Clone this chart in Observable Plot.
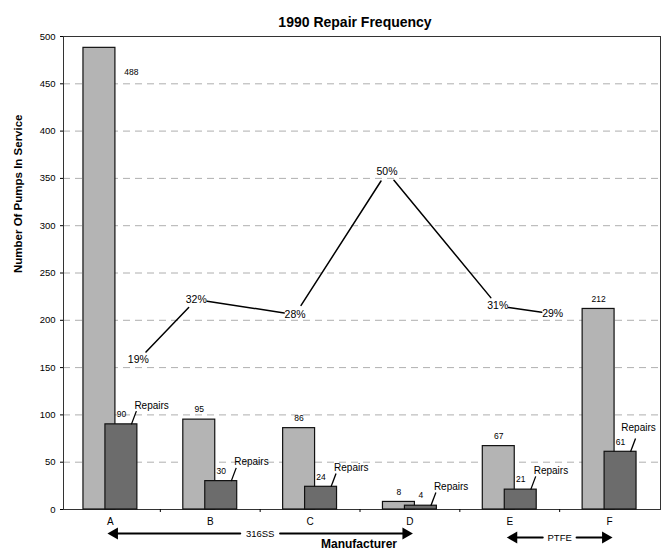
<!DOCTYPE html>
<html>
<head>
<meta charset="utf-8">
<script src="https://cdn.jsdelivr.net/npm/d3@7"></script>
<script src="https://cdn.jsdelivr.net/npm/@observablehq/plot@0.6"></script>
<style>
  body { margin: 0; background: #fff; }
  #chart svg { display: block; }
</style>
</head>
<body>
<div id="chart"></div>
<script>
// ---- data ----
const categories = ["A", "B", "C", "D", "E", "F"];
const inService = [488, 95, 86, 8, 67, 212];
const repairs = [90, 30, 24, 4, 21, 61];
const pctLabels = ["19%", "32%", "28%", "50%", "31%", "29%"];
const pctPos = [0.28, 0.86, 1.85, 2.77, 3.88, 4.43];   // position along the category axis (A = 0)
const pctLevel = [158, 222, 206, 357, 215, 207];         // level on the y axis where the label sits
const yTicks = [0, 50, 100, 150, 200, 250, 300, 350, 400, 450, 500];
const groupNames = ["316SS", "PTFE"];
const groupFrom = ["A", "E"];
const groupTo = ["D", "F"];
const title = "1990 Repair Frequency";
const yLabel = "Number Of Pumps In Service";
const xLabel = "Manufacturer";
const annotation = "Repairs";

// ---- tables built from the arrays ----
const bars = categories.map((c, i) => ({c, i, inService: inService[i], repairs: repairs[i]}));
const pcts = pctLabels.map((t, i) => ({t, x: pctPos[i], y: pctLevel[i]}));
const segs = d3.pairs(pcts).map(([a, b]) => ({x1: a.x, y1: a.y, x2: b.x, y2: b.y}));
const groups = groupNames.map((name, k) => {
  const a = categories.indexOf(groupFrom[k]), b = categories.indexOf(groupTo[k]);
  return {name, a, b, m: (a + b) / 2};
});
const mids = d3.range(categories.length - 1).map(i => i + 0.5);

const light = "#b4b4b4", dark = "#6c6c6c";
const groupDy = [24, 28];

const groupMarks = groups.flatMap((g, k) => {
  const dy = groupDy[k];
  const inset = g.name.length * 3 + 5;
  const halves = [{x1: g.m, x2: g.a}, {x1: g.m, x2: g.b}];
  return [
    Plot.arrow(halves, {x1: "x1", x2: "x2", y1: 0, y2: 0, dy, headLength: 0, insetStart: inset, insetEnd: 4,
      stroke: "#000", strokeWidth: 2.2}),
    Plot.dot([g], {x: "a", y: 0, dy, dx: 4, symbol: "triangle", rotate: -90, r: 4.5, fill: "#000", stroke: "none"}),
    Plot.dot([g], {x: "b", y: 0, dy, dx: -4, symbol: "triangle", rotate: 90, r: 4.5, fill: "#000", stroke: "none"}),
    Plot.text([g], {x: "m", y: 0, dy, text: "name", fontSize: 9.5, fill: "#000"})
  ];
});

const chart = Plot.plot({
  width: 665,
  height: 553,
  marginTop: 36,
  marginBottom: 44,
  marginLeft: 63,
  marginRight: 5,
  style: {fontFamily: "'Liberation Sans', Arial, sans-serif", color: "#000", background: "#fff"},
  x: {type: "linear", domain: [-0.47, 5.51], axis: null},
  y: {domain: [0, 500], axis: null},
  marks: [
    Plot.ruleY(yTicks.filter(t => t > 0 && t < 500), {stroke: "#9a9a9a", strokeWidth: 0.8, strokeDasharray: "7,5"}),
    Plot.frame({stroke: "#333", strokeWidth: 1}),
    Plot.axisY({ticks: yTicks, tickSize: 3, tickPadding: 5, fontSize: 9.5, label: null}),
    Plot.axisX({ticks: d3.range(categories.length), tickFormat: i => categories[i], tickSize: 0, tickPadding: 8, fontSize: 10, label: null}),
    Plot.axisX({ticks: mids, tickSize: 3, fill: "none", label: null}),
    Plot.rect(bars, {x1: d => d.i - 0.27, x2: d => d.i + 0.05, y1: 0, y2: "inService", fill: light, stroke: "#111", strokeWidth: 1.2}),
    Plot.rect(bars, {x1: d => d.i - 0.05, x2: d => d.i + 0.27, y1: 0, y2: "repairs", fill: dark, stroke: "#111", strokeWidth: 1.2}),
    // value labels
    Plot.text(bars.filter(d => d.inService < 450), {x: d => d.i - 0.11, y: "inService", text: d => String(d.inService), dy: -10, fontSize: 8.5}),
    Plot.text(bars.filter(d => d.inService >= 450), {x: d => d.i + 0.05, y: "inService", text: d => String(d.inService), dx: 16, dy: 24, fontSize: 8.5}),
    Plot.text(bars, {x: d => d.i + 0.11, y: "repairs", text: d => String(d.repairs), dy: -10, fontSize: 8.5}),
    // "Repairs" call-outs
    Plot.link(bars, {x1: d => d.i + 0.21, y1: "repairs", x2: d => d.i + 0.26, y2: d => d.repairs + 14, stroke: "#000", strokeWidth: 1.3}),
    Plot.text(bars.filter(d => d.i < categories.length - 1), {x: d => d.i + 0.24, y: d => d.repairs + 20, text: () => annotation, textAnchor: "start", fontSize: 10}),
    Plot.text(bars.filter(d => d.i === categories.length - 1), {x: d => d.i + 0.29, y: d => d.repairs + 25, text: () => annotation, fontSize: 10}),
    // percentage line
    Plot.arrow(segs, {x1: "x1", y1: "y1", x2: "x2", y2: "y2", headLength: 0, insetStart: 11, insetEnd: 11, stroke: "#000", strokeWidth: 1.5}),
    Plot.text(pcts, {x: "x", y: "y", text: "t", fontSize: 10.5}),
    // material groups below the axis
    ...groupMarks,
    // titles
    Plot.text([title], {frameAnchor: "top", dx: -7, dy: -19, fontSize: 14, fontWeight: "bold"}),
    Plot.text([yLabel], {frameAnchor: "left", rotate: -90, dx: -45, fontSize: 11.5, fontWeight: "bold"}),
    Plot.text([xLabel], {frameAnchor: "bottom", dx: -3, dy: 38, fontSize: 12, fontWeight: "bold"})
  ]
});
document.getElementById("chart").appendChild(chart);
</script>
</body>
</html>
